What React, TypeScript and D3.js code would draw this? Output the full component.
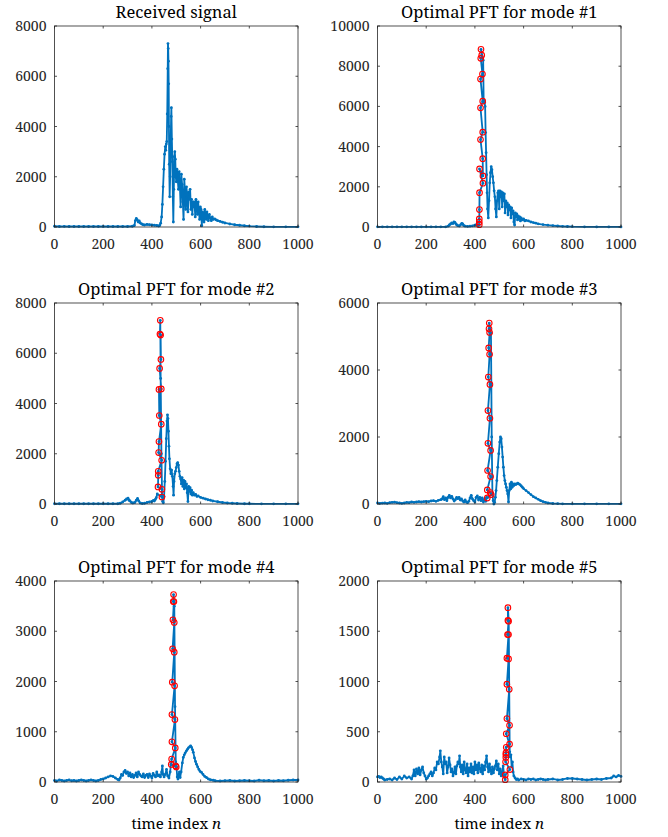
import React from "react";
import * as d3 from "d3";

// ---------- DATA ----------
const xTicks = [0, 200, 400, 600, 800, 1000];

const recvN = [0,20,40,60,80,100,120,140,160,180,200,220,240,260,280,300,320,328,332,336,340,344,348,352,358,364,370,380,390,400,410,420,428,432,436,440,443,446,449,452,455,457,459,461,463,465,466,467,468,469,470,471,473,475,477,479,480,482,484,486,488,490,492,494,496,498,500,503,506,509,512,515,518,521,524,527,530,533,536,539,542,545,548,551,554,557,560,563,566,569,572,575,578,581,584,587,590,593,596,599,602,605,608,611,614,617,620,623,626,629,632,636,640,644,648,652,658,664,670,680,690,700,720,740,760,780,800,830,860,900,950,1000];
const recvV = [30,20,25,20,20,20,20,20,20,20,20,20,20,20,20,20,30,60,250,340,280,200,240,160,120,90,80,100,90,80,70,60,40,60,150,400,900,1600,2300,2900,3200,3050,3300,3400,4500,6300,7300,7100,6600,5700,4000,2500,1200,2000,3300,4400,4750,3500,2600,1200,200,1500,2800,3000,2700,2000,1800,2300,1900,1500,2200,1600,800,2100,1700,1000,300,1900,1400,700,1600,1200,600,1400,1100,1500,700,1100,500,1000,800,1000,400,1100,900,500,1000,600,300,800,700,50,600,550,200,700,500,300,600,400,250,500,350,250,400,300,320,280,250,220,190,160,120,90,70,50,35,20,10,5,5,5];

const m1N = [0,20,40,60,80,100,120,140,160,180,200,220,240,260,280,290,295,300,305,310,314,318,322,326,330,336,342,346,350,354,360,370,380,390,400,406,410,414,417];
const m1V = [10,10,10,10,10,10,10,10,10,10,10,10,10,10,10,40,100,150,200,170,250,230,150,100,70,50,120,180,150,80,40,30,40,60,90,120,100,80,100];
const m1SpikeN = [418,418,418,418.5,419,433,419,433,432,423,432,423,432,423,431,424,428,425];
const m1SpikeV = [115,250,400,865,1710,2180,2890,2540,3400,4350,4720,5930,6260,7360,7610,8390,8550,8840];
const m1PostN = [434,436,438,440,442,444,446,448,450,452,455,458,461,464,467,470,473,476,479,482,485,488,491,494,497,500,503,506,509,512,515,518,521,524,527,530,533,536,539,542,545,548,551,554,557,560,563,566,569,572,575,578,581,584,587,590,595,600,605,610,620,630,640,650,660,680,700,720,740,760,780,800,850,900,950,1000];
const m1PostV = [8300,6200,6300,6200,6000,4700,3700,2600,1700,900,450,1300,2200,2700,3000,2850,2500,2200,1800,1500,900,500,1300,1700,1800,900,1800,1500,1750,1000,1700,1300,1650,700,1300,1000,1200,600,1100,850,1000,450,950,650,800,250,100,700,500,650,350,550,400,500,300,450,350,400,300,330,300,250,220,190,160,120,90,70,50,35,25,15,10,5,5,5];

const m2N = [0,20,40,60,80,100,120,140,160,180,200,220,240,260,270,280,290,296,302,306,310,316,322,330,336,341,346,352,360,370,380,390,400,406,410,414,418,422];
const m2V = [10,10,10,10,10,10,10,10,10,10,10,10,10,10,30,80,150,200,230,150,120,60,40,60,150,220,120,40,20,30,60,80,100,140,120,180,250,400];
const m2SpikeN = [441,441,425,426,426,440,427.6,429,438.5,430.3,429,438.5,431.7,437,435.8,433,434.4];
const m2SpikeV = [279,585,678,1143,1302,1741,2047,2485,3176,3522,4560,4580,5395,5755,6725,6765,7310];
const m2PostN = [436,439,442,444,447,450,453,456,459,462,464,466,468,470,472,475,478,481,484,487,489,491,494,497,500,503,506,509,512,515,518,521,524,527,530,533,536,539,542,545,548,551,554,557,560,563,566,570,575,580,585,590,600,610,620,630,640,650,670,690,710,730,750,780,800,850,900,950,1000];
const m2PostV = [5000,2000,300,100,50,300,900,1700,2600,3300,3550,3400,2900,2300,1800,1400,1200,1350,1100,700,350,900,1200,1300,1450,1600,1650,1550,1300,1100,1000,800,1050,700,950,600,900,650,800,450,100,700,500,650,400,550,350,450,350,380,300,320,260,230,200,170,150,120,90,60,40,30,20,10,10,5,5,5,5];

const m3N = [0,10,20,30,40,50,60,70,80,90,100,110,120,130,140,150,160,170,180,190,200,210,220,230,240,250,260,265,270,275,280,285,290,295,300,305,310,315,320,325,330,335,340,345,350,355,360,365,370,375,380,385,390,395,400,405,410,415,420,425,430,435,440,445,448];
const m3V = [30,20,25,30,20,40,50,55,40,30,20,30,50,40,60,50,60,70,60,70,80,70,90,100,80,110,130,150,220,130,180,100,200,260,180,230,150,90,130,200,160,200,120,150,90,60,120,60,40,80,180,260,150,100,60,200,240,120,200,100,180,60,150,80,200];
const m3SpikeN = [450.8,467,463,450.8,464.5,452,464.5,453.5,461.7,453.5,461.7,455,460.4,456.5,460.4,457.9,459];
const m3SpikeV = [180,280,340,420,820,1000,1600,1810,2560,2790,3570,3790,4470,4660,5120,5230,5400];
const m3PostN = [466,469,472,475,478,481,484,487,490,494,498,502,505,508,511,514,517,520,523,526,529,532,535,538,541,544,547,550,553,556,560,564,568,572,576,580,585,590,595,600,610,620,630,640,650,660,670,680,690,700,720,740,760,800,850,900,950,1000];
const m3PostV = [5100,2000,300,100,0,50,200,400,700,1100,1500,1850,2000,1950,1700,1400,1100,850,700,600,500,400,300,60,400,600,450,650,500,600,550,600,580,600,620,600,580,540,500,460,400,340,280,220,180,140,100,70,50,30,15,10,5,5,5,5,5,5];

const m4N = [0,10,20,30,40,50,60,70,80,90,100,110,120,130,140,150,160,170,180,190,200,210,220,230,240,250,260,265,270,275,280,285,290,295,300,305,310,315,320,325,330,335,340,345,350,355,360,365,370,375,380,385,390,395,400,405,410,415,420,425,430,435,440,443,446,450,455,460,465,470,475,478];
const m4V = [30,20,40,30,20,30,40,25,30,20,30,40,30,20,30,40,30,20,30,50,60,80,100,120,110,80,50,40,80,150,130,200,230,170,200,120,180,100,150,90,130,180,100,200,150,120,100,160,90,130,150,90,160,120,80,170,130,100,200,120,140,100,200,320,150,100,150,250,120,80,200,350];
const m4SpikeN = [500,497.3,479.5,481,496,482.2,494.5,482.2,493.2,483.6,491.8,485,491.8,486.3,490.4,487.7,489];
const m4SpikeV = [300,322,349,456,678,799,1242,1342,1913,1986,2584,2651,3174,3228,3590,3590,3730];
const m4PostN = [492,495,498,501,504,507,510,513,516,520,525,529,533,537,542,546,550,555,559,563,567,570,575,579,583,588,593,598,604,610,617,624,632,640,652,660,680,700,720,740,760,780,800,820,840,860,880,900,920,940,960,980,1000];
const m4PostV = [3500,1500,400,300,100,60,150,200,90,200,380,490,540,580,620,650,680,700,720,690,640,590,480,410,355,300,250,210,190,150,110,90,60,45,35,25,20,25,30,20,25,30,25,20,35,25,30,20,30,25,35,40,40];

const m5N = [0,5,10,15,20,25,30,40,50,60,70,80,90,100,110,120,130,140,145,150,155,160,165,170,175,180,185,190,195,200,205,210,215,220,225,230,235,240,245,250,255,258,262,266,270,274,278,282,286,290,294,298,302,306,310,314,318,322,326,330,334,337,340,344,348,352,356,360,364,368,372,376,380,384,388,392,396,400,404,408,412,416,420,424,428,432,436,440,444,448,452,456,460,464,468,472,476,480,484,488,492,496,500,504,508,512,516,520,523];
const m5V = [50,55,45,50,40,30,20,25,30,20,40,25,50,30,60,40,50,30,60,120,60,130,80,140,70,120,150,90,60,30,40,60,80,100,60,90,140,120,200,180,250,310,200,150,80,250,180,200,90,150,240,170,100,130,60,90,150,80,160,200,180,260,150,100,170,80,200,120,90,180,60,140,100,180,90,150,80,200,120,170,90,190,130,100,170,80,160,120,200,260,150,100,180,120,80,150,90,130,160,210,120,180,80,130,60,100,160,60,40];
const m5SpikeN = [524.6,524.6,543.7,526,527,527.3,527.3,528.7,542.3,528.7,542.3,531.4,541,531.4,538.3,531.4,538,534,538.3,535.5,535.5];
const m5SpikeV = [23,70,124,201,245,272,289,346,376,480,564,631,923,973,1225,1232,1467,1467,1600,1608,1735];
const m5PostN = [539,541,543,545,548,551,554,557,560,565,570,575,580,590,600,610,620,630,640,650,660,670,680,690,700,720,740,760,780,800,820,840,860,880,900,920,940,960,970,980,990,1000];
const m5PostV = [1600,900,300,250,270,150,200,100,60,40,25,30,20,30,25,20,30,25,30,20,25,30,25,20,25,30,20,25,35,35,30,25,20,25,30,25,35,40,60,50,65,55];

const titles = ["Received signal", "Optimal PFT for mode #1", "Optimal PFT for mode #2", "Optimal PFT for mode #3", "Optimal PFT for mode #4", "Optimal PFT for mode #5"];
const yMaxes = [8000, 10000, 8000, 6000, 4000, 2000];
const yTickSteps = [2000, 2000, 2000, 2000, 1000, 500];

// ---------- LAYOUT ----------
const W = 668, H = 837;
const colX = [54.5, 377.5];
const rowY = [26, 303, 581];
const AW = 243.5, AH = 201;
const BLUE = "#0072BD";
const INK = "#262626";
const FONT = "'Noto Serif', 'Liberation Serif', 'DejaVu Serif', serif";

type Panel = {
  title: string;
  yMax: number;
  step: number;
  n: number[];
  v: number[];
  spikeN?: number[];
  spikeV?: number[];
  postN?: number[];
  postV?: number[];
};

const panels: Panel[] = [
  { title: titles[0], yMax: yMaxes[0], step: yTickSteps[0], n: recvN, v: recvV },
  { title: titles[1], yMax: yMaxes[1], step: yTickSteps[1], n: m1N, v: m1V, spikeN: m1SpikeN, spikeV: m1SpikeV, postN: m1PostN, postV: m1PostV },
  { title: titles[2], yMax: yMaxes[2], step: yTickSteps[2], n: m2N, v: m2V, spikeN: m2SpikeN, spikeV: m2SpikeV, postN: m2PostN, postV: m2PostV },
  { title: titles[3], yMax: yMaxes[3], step: yTickSteps[3], n: m3N, v: m3V, spikeN: m3SpikeN, spikeV: m3SpikeV, postN: m3PostN, postV: m3PostV },
  { title: titles[4], yMax: yMaxes[4], step: yTickSteps[4], n: m4N, v: m4V, spikeN: m4SpikeN, spikeV: m4SpikeV, postN: m4PostN, postV: m4PostV },
  { title: titles[5], yMax: yMaxes[5], step: yTickSteps[5], n: m5N, v: m5V, spikeN: m5SpikeN, spikeV: m5SpikeV, postN: m5PostN, postV: m5PostV },
];

function PanelView({ p, idx }: { p: Panel; idx: number }) {
  const col = idx % 2;
  const row = Math.floor(idx / 2);
  const x0 = colX[col];
  const y0 = rowY[row];
  const x = d3.scaleLinear().domain([0, 1000]).range([x0, x0 + AW]);
  const y = d3.scaleLinear().domain([0, p.yMax]).range([y0 + AH, y0]);
  const yTicks = d3.range(0, p.yMax + 1, p.step);

  const pts: [number, number][] = p.n.map((n, i) => [n, p.v[i]]);
  const spike: [number, number][] = p.spikeN ? p.spikeN.map((n, i) => [n, p.spikeV![i]]) : [];
  const post: [number, number][] = p.postN ? p.postN.map((n, i) => [n, p.postV![i]]) : [];
  const all = [...pts, ...spike, ...post];
  const line = d3.line<[number, number]>().x((d) => x(d[0])).y((d) => y(d[1]));
  const tl = 2.5;

  return (
    <g>
      <text x={x0 + AW / 2} y={y0 - 8} textAnchor="middle" style={{ fontFamily: FONT }} fontSize={16.5} fill="#000">
        {p.title}
      </text>
      <path d={line(all) || ""} fill="none" stroke={BLUE} strokeWidth={1.8} strokeLinejoin="round" />
      {all.map((d, i) => (
        <circle key={i} cx={x(d[0])} cy={y(d[1])} r={1.4} fill={BLUE} />
      ))}
      {spike.map((d, i) => (
        <circle key={"s" + i} cx={x(d[0])} cy={y(d[1])} r={2.8} fill="none" stroke="#FF0000" strokeWidth={1.1} />
      ))}
      <rect x={x0} y={y0} width={AW} height={AH} fill="none" stroke={INK} strokeWidth={0.8} />
      {xTicks.map((t) => (
        <g key={"x" + t}>
          <line x1={x(t)} x2={x(t)} y1={y0 + AH} y2={y0 + AH - tl} stroke={INK} strokeWidth={0.8} />
          <line x1={x(t)} x2={x(t)} y1={y0} y2={y0 + tl} stroke={INK} strokeWidth={0.8} />
          <text x={x(t)} y={y0 + AH + 22} textAnchor="middle" style={{ fontFamily: FONT }} fontSize={14} fill={INK}>
            {t}
          </text>
        </g>
      ))}
      {yTicks.map((t) => (
        <g key={"y" + t}>
          <line x1={x0} x2={x0 + tl} y1={y(t)} y2={y(t)} stroke={INK} strokeWidth={0.8} />
          <line x1={x0 + AW} x2={x0 + AW - tl} y1={y(t)} y2={y(t)} stroke={INK} strokeWidth={0.8} />
          <text x={x0 - 8} y={y(t) + 5} textAnchor="end" style={{ fontFamily: FONT }} fontSize={14} fill={INK}>
            {t}
          </text>
        </g>
      ))}
      {row === 2 && (
        <text x={x0 + AW / 2} y={y0 + AH + 47} textAnchor="middle" style={{ fontFamily: FONT }} fontSize={15} fill="#000">
          time index <tspan fontStyle="italic">n</tspan>
        </text>
      )}
    </g>
  );
}

export default function App() {
  return (
    <svg width={W} height={H} style={{ position: "absolute", left: 0, top: 0, background: "#fff" }}>
      <rect width={W} height={H} fill="#fff" />
      {panels.map((p, i) => (
        <PanelView key={i} p={p} idx={i} />
      ))}
    </svg>
  );
}
